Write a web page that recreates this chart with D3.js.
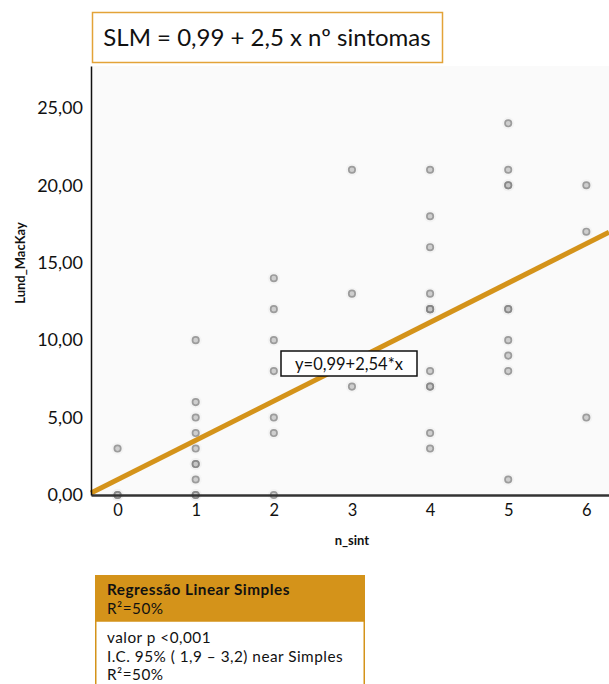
<!DOCTYPE html>
<html>
<head>
<meta charset="utf-8">
<script src="https://cdn.jsdelivr.net/npm/d3@7"></script>
<style>
  body { margin: 0; background: #fff; }
  svg { display: block; font-family: Lato, "Open Sans", sans-serif; }
</style>
</head>
<body>
<div id="viz"></div>
<script>
// n_sint vs Lund_MacKay (duplicates kept so overlaps look darker)
const nSint = [0, 0, 0,
  1, 1, 1, 1, 1, 1, 1, 1, 1, 1,
  2, 2, 2, 2, 2, 2, 2,
  3, 3, 3, 3,
  4, 4, 4, 4, 4, 4, 4, 4, 4, 4, 4, 4,
  5, 5, 5, 5, 5, 5, 5, 5, 5, 5,
  6, 6, 6];
const lundMacKay = [3, 0, 0,
  10, 6, 5, 4, 3, 2, 2, 1, 0, 0,
  14, 12, 10, 8, 5, 4, 0,
  21, 13, 8, 7,
  21, 18, 16, 13, 12, 12, 8, 7, 7, 4, 3, 12,
  24, 21, 20, 20, 12, 12, 10, 9, 8, 1,
  20, 17, 5];
const xTicks = [0, 1, 2, 3, 4, 5, 6];
const yTicks = [0, 5, 10, 15, 20, 25];
const intercept = 0.99;
const slope = 2.54;
const titleText = "SLM = 0,99 + 2,5 x nº sintomas";
const eqText = "y=0,99+2,54*x";
const tableHead = ["Regressão Linear Simples", "R²=50%"];
const tableBody = ["valor p <0,001", "I.C. 95% ( 1,9 – 3,2) near Simples", "R²=50%"];

const width = 609, height = 684;
const plotLeft = 91, plotRight = 609, plotTop = 66, plotBottom = 495;
const orange = "#d4931a";

const svg = d3.select('#viz').append('svg')
  .attr('width', width)
  .attr('height', height);

const xScale = d3.scaleLinear().domain([-0.34, 6.29]).range([plotLeft, plotRight]);
const yScale = d3.scaleLinear().domain([0, 27.7]).range([plotBottom, plotTop]);

// title box
svg.append('rect')
  .attr('x', 92.5).attr('y', 12.5).attr('width', 350).attr('height', 50)
  .attr('fill', '#fff').attr('stroke', '#e3a338').attr('stroke-width', 1.5);
svg.append('text')
  .attr('x', 267).attr('y', 46)
  .attr('text-anchor', 'middle')
  .attr('font-size', 24)
  .attr('fill', '#111')
  .text(titleText);

// plot background
svg.append('rect')
  .attr('x', plotLeft).attr('y', plotTop)
  .attr('width', plotRight - plotLeft).attr('height', plotBottom - plotTop)
  .attr('fill', '#fafafa');

// points
const pts = nSint.map((d, i) => ({ x: d, y: lundMacKay[i] }));
const gPts = svg.append('g');
gPts.selectAll('circle.halo')
  .data(pts).enter().append('circle')
  .attr('class', 'halo')
  .attr('cx', d => xScale(d.x)).attr('cy', d => yScale(d.y))
  .attr('r', 6).attr('fill', '#eee').attr('opacity', 0.5);
gPts.selectAll('circle.pt')
  .data(pts).enter().append('circle')
  .attr('class', 'pt')
  .attr('cx', d => xScale(d.x)).attr('cy', d => yScale(d.y))
  .attr('r', 3.2)
  .attr('fill', '#c4c4c4')
  .attr('stroke', '#848484')
  .attr('stroke-width', 1.7)
  .attr('opacity', 0.78);

// regression line
const xd = xScale.domain();
svg.append('line')
  .attr('x1', xScale(xd[0])).attr('y1', yScale(intercept + slope * xd[0]))
  .attr('x2', xScale(xd[1])).attr('y2', yScale(intercept + slope * xd[1]))
  .attr('stroke', orange).attr('stroke-width', 5);

// axes
const xAxis = d3.axisBottom(xScale).tickValues(xTicks).tickSize(0).tickSizeOuter(0)
  .tickFormat(d3.format('d'));
const yAxis = d3.axisLeft(yScale).tickValues(yTicks).tickSize(0).tickSizeOuter(0)
  .tickFormat(d => d.toFixed(2).replace('.', ','));

const gx = svg.append('g')
  .attr('transform', 'translate(0,' + plotBottom + ')')
  .call(xAxis);
gx.select('.domain').attr('stroke', '#333').attr('stroke-width', 2.5);
gx.selectAll('text').attr('font-size', 16.5).attr('fill', '#111')
  .attr('font-family', 'Lato, sans-serif').attr('dy', '1.1em');

const gy = svg.append('g')
  .attr('transform', 'translate(' + plotLeft + ',0)')
  .call(yAxis);
gy.select('.domain').attr('stroke', '#111').attr('stroke-width', 1.5);
gy.selectAll('text').attr('font-size', 18).attr('fill', '#111')
  .attr('font-family', 'Lato, sans-serif').attr('x', -8);

// axis titles
svg.append('text')
  .attr('x', xScale(3)).attr('y', 545)
  .attr('text-anchor', 'middle')
  .attr('font-weight', 'bold').attr('font-size', 13).attr('fill', '#111')
  .text('n_sint');
svg.append('text')
  .attr('transform', 'translate(25,263) rotate(-90)')
  .attr('text-anchor', 'middle')
  .attr('font-weight', 'bold').attr('font-size', 13).attr('fill', '#111')
  .text('Lund_MacKay');

// equation label
svg.append('rect')
  .attr('x', 281).attr('y', 351).attr('width', 136).attr('height', 25)
  .attr('fill', '#fff').attr('stroke', '#111').attr('stroke-width', 1.5);
svg.append('text')
  .attr('x', 349).attr('y', 369.5)
  .attr('text-anchor', 'middle')
  .attr('font-size', 16.5).attr('fill', '#111')
  .text(eqText);

// summary table
svg.append('rect')
  .attr('x', 95).attr('y', 575).attr('width', 270).attr('height', 46)
  .attr('fill', orange);
svg.append('rect')
  .attr('x', 95.75).attr('y', 621).attr('width', 268.5).attr('height', 70)
  .attr('fill', '#fff').attr('stroke', orange).attr('stroke-width', 1.5);
svg.selectAll('text.head')
  .data(tableHead).enter().append('text')
  .attr('class', 'head')
  .attr('x', 107).attr('y', (d, i) => 595 + i * 18.5)
  .attr('font-size', 15.3).attr('fill', '#111')
  .attr('letter-spacing', 0.5)
  .attr('font-weight', (d, i) => i === 0 ? 'bold' : 'normal')
  .text(d => d);
svg.selectAll('text.body')
  .data(tableBody).enter().append('text')
  .attr('class', 'body')
  .attr('x', 107).attr('y', (d, i) => 643 + i * 18.5)
  .attr('font-size', 15.3).attr('fill', '#111')
  .attr('letter-spacing', 0.5)
  .text(d => d);
</script>
</body>
</html>
